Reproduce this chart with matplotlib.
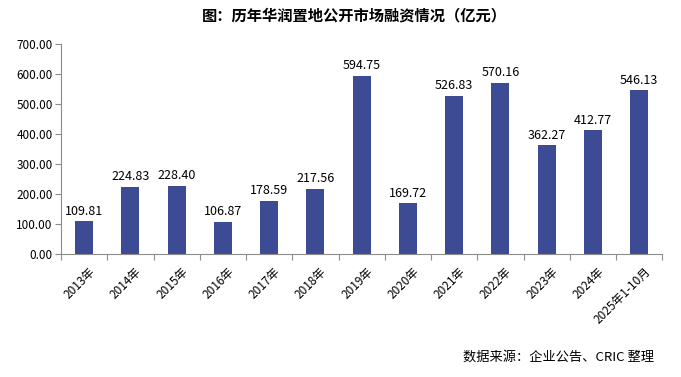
import matplotlib
matplotlib.use("Agg")
import matplotlib.pyplot as plt
import numpy as np

plt.rcParams['font.family'] = ['Noto Sans CJK SC', 'DejaVu Sans']

# dati
anni = ["2013年", "2014年", "2015年", "2016年", "2017年", "2018年", "2019年",
        "2020年", "2021年", "2022年", "2023年", "2024年", "2025年1-10月"]
valori = [109.81, 224.83, 228.40, 106.87, 178.59, 217.56, 594.75,
          169.72, 526.83, 570.16, 362.27, 412.77, 546.13]
yticks = [0, 100, 200, 300, 400, 500, 600, 700]

colore = "#3C4B93"
grigio = "#8C8C8C"

fig = plt.figure(figsize=(6.81, 3.77), dpi=100)
ax = fig.add_axes([0.0896, 0.326, 0.883, 0.557])

x = np.arange(len(anni))
bars = ax.bar(x, valori, width=0.39, color=colore, zorder=2)
for xi, v in zip(x, valori):
    ax.text(xi, v + 12, f"{v:.2f}", ha="center", va="bottom", fontsize=9)

ax.set_xlim(-0.5, len(anni) - 0.5)
ax.set_ylim(0, 700)
ax.set_yticks(yticks)
ax.set_yticklabels([f"{t:.2f}" for t in yticks], fontsize=8.5)

# tick fra le categorie
ax.set_xticks(np.arange(-0.5, len(anni) + 0.5, 1.0))
ax.set_xticklabels([])
ax.tick_params(axis="x", length=4, color=grigio)
ax.tick_params(axis="y", length=4, color=grigio, pad=2)
for xi, lab in zip(x, anni):
    ax.annotate(lab, xy=(xi + 0.1, 0), xycoords=("data", "axes fraction"),
                xytext=(0, -8), textcoords="offset points",
                rotation=45, ha="right", va="top", rotation_mode="anchor",
                fontsize=8.5)

for s in ["top", "right"]:
    ax.spines[s].set_visible(False)
for s in ["left", "bottom"]:
    ax.spines[s].set_color(grigio)

fig.text(0.52, 0.96, "图：历年华润置地公开市场融资情况（亿元）", ha="center", va="center",
         fontsize=11, fontweight="bold")
fig.text(0.96, 0.053, "数据来源：企业公告、CRIC 整理", ha="right", va="center", fontsize=9.5)

fig.savefig("out.png", dpi=100)
